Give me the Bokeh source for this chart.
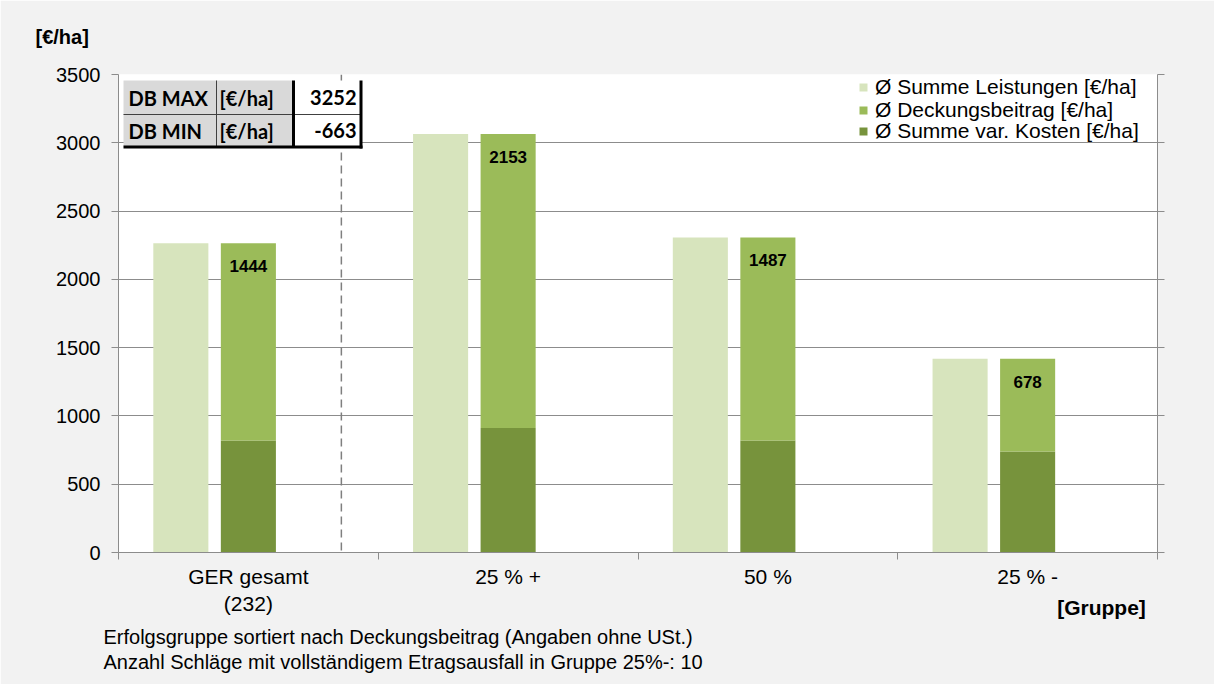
from bokeh.plotting import figure
from bokeh.models import (Range1d, FixedTicker, LinearAxis, Span, Label, BoxAnnotation,
                          Legend, LegendItem, ColumnDataSource, Grid, Title)
from bokeh.embed import file_html
from bokeh.resources import INLINE
from bokeh.core.properties import value

# ---------------- data ----------------
categories = ["GER gesamt\n(232)", "25 % +", "50 %", "25 % -"]
leistungen = [2264, 3065, 2307, 1418]
deckungsbeitrag = [1444, 2153, 1487, 678]
var_kosten = [820, 912, 820, 740]
y_ticks = [0, 500, 1000, 1500, 2000, 2500, 3000, 3500]
series_names = ["Ø Summe Leistungen [€/ha]", "Ø Deckungsbeitrag [€/ha]", "Ø Summe var. Kosten [€/ha]"]
table_rows = ["DB MAX", "DB MIN"]
table_unit = "[€/ha]"
table_values = ["3252", "-663"]
y_unit_label = "[€/ha]"
x_unit_label = "[Gruppe]"
footnotes = ["Erfolgsgruppe sortiert nach Deckungsbeitrag (Angaben ohne USt.)",
             "Anzahl Schläge mit vollständigem Etragsausfall in Gruppe 25%-: 10"]

# ---------------- style ----------------
COLORS = ["#D7E4BD", "#9BBB59", "#77933C"]
GRID = "#8C8C8C"
BG = "#F2F2F2"
FONT = "Liberation Sans"
TFONT = "Lato"
BAR_W = 0.212
LIGHT_OFF = 0.24
STACK_OFF = 0.5
SEP_X = 0.858
LEGEND_ROWS_Y = [453, 430, 409]
FOOT_STANDOFF = [-19, 21]

n = len(categories)
x_light = [i + LIGHT_OFF for i in range(n)]
x_stack = [i + STACK_OFF for i in range(n)]
db_top = [k + d for k, d in zip(var_kosten, deckungsbeitrag)]

src = ColumnDataSource(dict(x_light=x_light, x_stack=x_stack, leist=leistungen,
                            kost=var_kosten, db=deckungsbeitrag, db_top=db_top,
                            lbl=[str(v) for v in deckungsbeitrag]))

p = figure(frame_width=1039, frame_height=478,
           x_range=Range1d(0, n), y_range=Range1d(y_ticks[0], y_ticks[-1]),
           output_backend="svg", toolbar_location=None,
           min_border_left=118, min_border_right=57, min_border_top=74, min_border_bottom=132,
           border_fill_color=BG, background_fill_color="white", outline_line_color=None,
           x_axis_type=None, y_axis_type=None)

p.title = Title(text=y_unit_label, align="left", offset=-83, standoff=49, vertical_align="top",
                text_font=FONT, text_font_size="20px", text_font_style="bold", text_color="black")

yt = FixedTicker(ticks=y_ticks, minor_ticks=[])
p.add_layout(Grid(dimension=1, ticker=yt, grid_line_color=GRID, grid_line_width=1))

yaxis = LinearAxis(ticker=yt, axis_line_color=GRID, major_tick_line_color=GRID,
                   major_tick_out=7, major_tick_in=0, minor_tick_out=0, minor_tick_in=0,
                   major_label_text_font=FONT, major_label_text_font_size="20px",
                   major_label_text_color="black", major_label_standoff=11)
p.add_layout(yaxis, "left")

raxis = LinearAxis(ticker=yt, axis_line_color=GRID, major_tick_line_color=GRID,
                   major_tick_out=7, major_tick_in=0, minor_tick_out=0, minor_tick_in=0,
                   major_label_overrides={t: "" for t in y_ticks}, major_label_standoff=0)
p.add_layout(raxis, "right")

xt = FixedTicker(ticks=[i + 0.5 for i in range(n)], minor_ticks=list(range(n + 1)))
xaxis = LinearAxis(ticker=xt, axis_line_color=GRID, major_tick_out=0, major_tick_in=0,
                   minor_tick_line_color=GRID, minor_tick_out=7, minor_tick_in=0,
                   major_label_overrides={i + 0.5: c for i, c in enumerate(categories)},
                   major_label_text_font=FONT, major_label_text_font_size="21px",
                   major_label_text_color="black", major_label_standoff=5)
has_align = "axis_label_align" in LinearAxis.properties()
if has_align:
    xaxis.axis_label = x_unit_label + "\u00a0\u00a0"
    xaxis.axis_label_align = "end"
    xaxis.axis_label_orientation = 1e-6
    xaxis.axis_label_standoff = -11
    xaxis.axis_label_text_font = FONT
    xaxis.axis_label_text_font_size = "21px"
    xaxis.axis_label_text_font_style = "bold"
    xaxis.axis_label_text_color = "black"
p.add_layout(xaxis, "below")
if not has_align:
    p.add_layout(Title(text=x_unit_label, align="right", offset=11, standoff=0,
                       text_font=FONT, text_font_size="21px", text_font_style="bold",
                       text_color="black"), "below")
    FOOT_STANDOFF = [1, 1]

for t, s in zip(footnotes, FOOT_STANDOFF):
    p.add_layout(Title(text=t, align="left", offset=-15, standoff=s,
                       text_font=FONT, text_font_size="20px", text_font_style="normal",
                       text_color="black"), "below")

r_leist = p.vbar(x="x_light", top="leist", bottom=0, width=BAR_W, source=src,
                 fill_color=COLORS[0], line_color=None)
r_kost = p.vbar(x="x_stack", top="kost", bottom=0, width=BAR_W, source=src,
                fill_color=COLORS[2], line_color=None)
r_db = p.vbar(x="x_stack", top="db_top", bottom="kost", width=BAR_W, source=src,
              fill_color=COLORS[1], line_color=None)

p.text(x="x_stack", y="db_top", text="lbl", source=src, y_offset=23,
       text_align="center", text_baseline="middle", text_font=value(FONT),
       text_font_size="17px", text_font_style="bold", text_color="black")

p.add_layout(Span(location=SEP_X, dimension="height", line_color="#7F7F7F",
                  line_width=1.5, line_dash="8 5"))

for name, rend, ly in zip(series_names, [r_leist, r_db, r_kost], LEGEND_ROWS_Y):
    p.add_layout(Legend(items=[LegendItem(label=name, renderers=[rend])],
                        location=(740, ly), orientation="vertical",
                        background_fill_alpha=0, border_line_color=None,
                        padding=0, margin=0, spacing=0, glyph_width=10, glyph_height=10,
                        label_height=20, label_standoff=7,
                        label_text_font=FONT, label_text_font_size="21px",
                        label_text_color="black"), "center")

# ---------------- DB table (screen units relative to frame) ----------------
def box(l, r, b, t, color):
    p.add_layout(BoxAnnotation(left=l, right=r, bottom=b, top=t,
                               left_units="screen", right_units="screen",
                               bottom_units="screen", top_units="screen",
                               fill_color=color, fill_alpha=1, line_color=None))

TL, TC1, TC2, TR = 5, 98, 175, 242
TT, TM, TB = 472, 438, 406
box(TL, TC2, TB, TT, "#D9D9D9")
box(TC2, TR, TB, TT, "#FFFFFF")
box(TL, TR, TM - 0.5, TM + 0.5, "#404040")
box(TC1 - 0.5, TC1 + 0.5, TB, TT, "#404040")
box(TC2 - 1.5, TC2 + 1.5, TB, TT, "#000000")
box(TR - 1, TR + 2, TB - 2, TT, "#000000")
box(TL, TR + 2, TB - 2, TB + 1, "#000000")

for j, (row, val) in enumerate(zip(table_rows, table_values)):
    yc = (TT + TM) / 2 if j == 0 else (TM + TB) / 2
    for txt, xx, al in [(row, TL + 5, "left"), (table_unit, TC1 + 3, "left"), (val, TR - 4, "right")]:
        p.add_layout(Label(x=xx, y=yc, x_units="screen", y_units="screen", text=txt,
                           text_align=al, text_baseline="middle", text_font=TFONT,
                           text_font_size="20px", text_font_style="bold", text_color="black"))

open("out.html", "w").write(file_html(p, INLINE))
